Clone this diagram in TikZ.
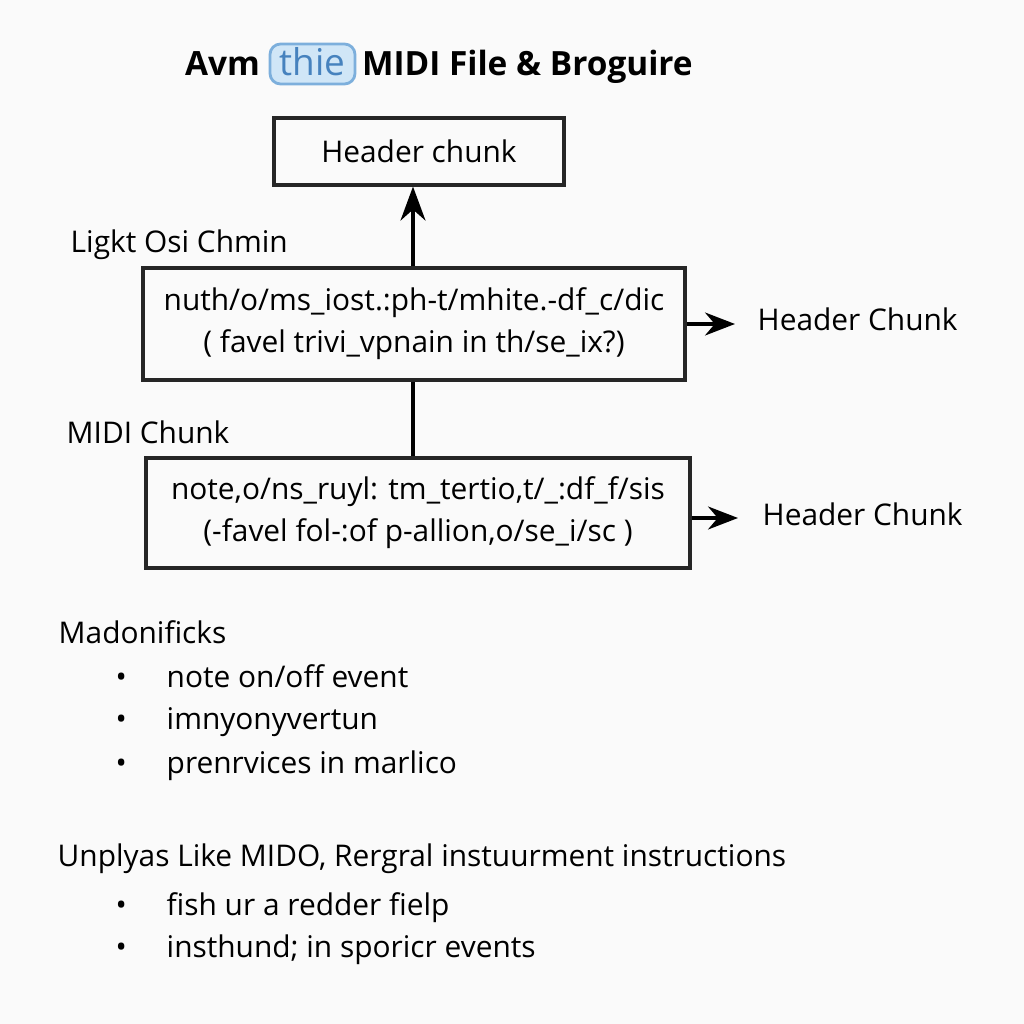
\documentclass[tikz,border=0pt]{standalone}
\usepackage{fontspec}
\setmainfont{Open Sans}
\usetikzlibrary{positioning}
\usetikzlibrary{calc}
\usetikzlibrary{arrows.meta}

\definecolor{thieblue}{RGB}{70,130,190}
\definecolor{thiefill}{RGB}{208,230,247}
\definecolor{thieedge}{RGB}{125,175,220}

\begin{document}
\begin{tikzpicture}
\tikzstyle{chunk} =[rectangle,draw=black!85,line width=0.9pt,align=center,inner sep=0pt,font=\fontsize{8.5}{12}\selectfont]
\tikzstyle{lbl} =[anchor=west,inner sep=0pt,text height=1.6ex,text depth=0.4ex,font=\fontsize{8.5}{12}\selectfont]
\tikzstyle{ttl} =[inner sep=0pt,text height=1.6ex,text depth=0.4ex,font=\fontsize{9.5}{12}\selectfont\bfseries]
\tikzstyle{arr} =[line width=0.9pt,-{Stealth[length=3mm,width=2.3mm]}]
\useasboundingbox[fill=white!98!black] (0,0) rectangle (10.24,10.24);

% title
\node[ttl,rounded corners=3pt,draw=thieedge,line width=0.8pt,fill=thiefill,text=thieblue,
  minimum width=0.85cm,minimum height=0.40cm,font=\fontsize{10.5}{12}\selectfont] (thie) at (3.125,9.60) {thie};
\node[ttl,left=0.08 of thie] (avm) {Avm};
\node[ttl,right=0.05 of thie] (midi) {MIDI File \& Broguire};

% chunks
\node[chunk,minimum width=2.90cm,minimum height=0.67cm] (header) at (4.19,8.725) {Header chunk};
\node[chunk,minimum width=5.42cm,minimum height=1.12cm] (light) at (4.14,7.00)
  {nuth/o/ms\_iost.:ph-t/mhite.-df\_c/dic\\( favel trivi\_vpnain in th/se\_ix?)};
\node[chunk,minimum width=5.44cm,minimum height=1.10cm] (midichunk) at (4.18,5.11)
  {note,o/ns\_ruyl: tm\_tertio,t/\_:df\_f/sis\\(-favel fol-:of p-allion,o/se\_i/sc )};
\draw[line width=0.9pt,-{Stealth[length=3.4mm,width=2.5mm]}] (4.13,0|-light.north) -- (4.13,0|-header.south);
\draw[line width=0.9pt] (4.13,0|-light.south) -- (4.13,0|-midichunk.north);

\node[lbl] (lightname) at (0.70,7.83) {Ligkt Osi Chmin};
\node[lbl] (midiname) at (0.66,5.92) {MIDI Chunk};

\node[lbl] (out1) at (7.57,7.05) {Header Chunk};
\node[lbl] (out2) at (7.62,5.10) {Header Chunk};
\draw[arr] (light.east) -- ($(out1.west |- light.east)+(-0.22,0)$);
\draw[arr] ($(midichunk.east)+(0,-0.05)$) -- ($(out2.west |- midichunk.east)+(-0.24,-0.05)$);

% lists
\node[lbl] (madon) at (0.58,3.92) {Madonificks};
\node[lbl] (b1) at (1.15,3.48) {\textbullet};
\node[lbl] (t1) at (1.66,3.48) {note on/off event};
\node[lbl] (b2) at (1.15,3.06) {\textbullet};
\node[lbl] (t2) at (1.66,3.06) {imnyonyvertun};
\node[lbl] (b3) at (1.15,2.62) {\textbullet};
\node[lbl] (t3) at (1.66,2.62) {prenrvices in marlico};

\node[lbl] (unplyas) at (0.57,1.69) {Unplyas Like MIDO, Rergral instuurment instructions};
\node[lbl] (b4) at (1.15,1.20) {\textbullet};
\node[lbl] (t4) at (1.66,1.20) {fish ur a redder fielp};
\node[lbl] (b5) at (1.15,0.78) {\textbullet};
\node[lbl] (t5) at (1.66,0.78) {insthund; in sporicr events};
\end{tikzpicture}
\end{document}
